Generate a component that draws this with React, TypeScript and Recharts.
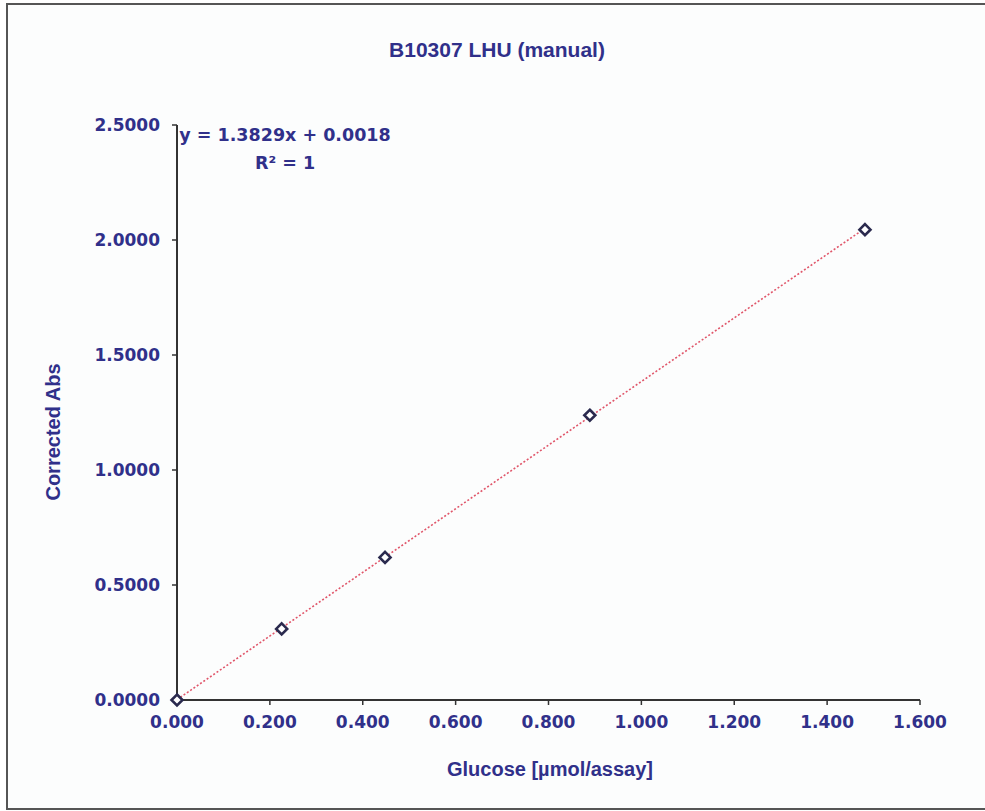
import React from "react";
import { ScatterChart, Scatter, XAxis, YAxis } from "recharts";

const glucose = [0, 0.2254, 0.448, 0.889, 1.4815];
const correctedAbs = [0, 0.309, 0.62, 1.238, 2.045];
const xTicks = [0, 0.2, 0.4, 0.6, 0.8, 1.0, 1.2, 1.4, 1.6];
const yTicks = [0, 0.5, 1.0, 1.5, 2.0, 2.5];
const slope = 1.3829;
const intercept = 0.0018;
const trendX = [0, 1.4815];

const points = glucose.map((x, i) => ({ x, y: correctedAbs[i] }));
const trend = trendX.map((x) => ({ x, y: slope * x + intercept }));

const navy = "#30308a";

const Diamond = (props: any) => {
  const { cx, cy } = props;
  if (cx == null || cy == null) return null;
  const r = 5.5;
  return (
    <path
      d={`M${cx},${cy - r} L${cx + r},${cy} L${cx},${cy + r} L${cx - r},${cy} Z`}
      fill="#ffffff"
      stroke="#2a2a4e"
      strokeWidth={2.6}
    />
  );
};

const NoShape = () => null;

const tickStyle = {
  fill: navy,
  fontSize: 17,
  fontFamily: "'DejaVu Sans', sans-serif",
  fontWeight: "bold" as const,
};

export default function App() {
  return (
    <div
      style={{
        position: "absolute",
        left: 0,
        top: 0,
        width: 985,
        height: 811,
        background: "#ffffff",
        overflow: "hidden",
      }}
    >
      <div
        style={{
          position: "absolute",
          left: 6,
          top: 3,
          width: 990,
          height: 803,
          borderTop: "2px solid #555",
          borderLeft: "2px solid #555",
          borderBottom: "2px solid #555",
          background: "#fcfdfd",
        }}
      />
      <div style={{ position: "absolute", left: 0, top: 0 }}>
        <ScatterChart
          width={985}
          height={811}
          margin={{ top: 125, right: 65, bottom: 71, left: 87 }}
        >
          <XAxis
            type="number"
            dataKey="x"
            domain={[0, 1.6]}
            ticks={xTicks}
            interval={0}
            tickFormatter={(v: number) => v.toFixed(3)}
            tick={tickStyle}
            tickSize={5}
            tickMargin={11}
            height={40}
            axisLine={{ stroke: "#333", strokeWidth: 2 }}
            tickLine={{ stroke: "#333", strokeWidth: 1.5 }}
          />
          <YAxis
            type="number"
            dataKey="y"
            domain={[0, 2.5]}
            ticks={yTicks}
            interval={0}
            tickFormatter={(v: number) => v.toFixed(4)}
            tick={tickStyle}
            tickSize={5}
            tickMargin={12}
            width={90}
            axisLine={{ stroke: "#333", strokeWidth: 2 }}
            tickLine={{ stroke: "#333", strokeWidth: 1.5 }}
          />
          <Scatter
            data={trend}
            line={{ stroke: "#e0566a", strokeWidth: 1.6, strokeDasharray: "2 2" }}
            shape={NoShape}
            isAnimationActive={false}
          />
          <Scatter
            data={points}
            shape={Diamond}
            isAnimationActive={false}
          />
        </ScatterChart>
      </div>
      <div
        style={{
          position: "absolute",
          left: 197,
          top: 39,
          width: 600,
          textAlign: "center",
          fontFamily: "'Liberation Sans', Arial, sans-serif",
          fontWeight: "bold",
          fontSize: 21,
          lineHeight: "22px",
          color: navy,
        }}
      >
        B10307 LHU (manual)
      </div>
      <div
        style={{
          position: "absolute",
          left: 135,
          top: 121,
          width: 300,
          textAlign: "center",
          fontFamily: "'DejaVu Sans', sans-serif",
          fontWeight: "bold",
          fontSize: 17.5,
          lineHeight: "28px",
          color: navy,
        }}
      >
        <div>y = 1.3829x + 0.0018</div>
        <div>R² = 1</div>
      </div>
      <div
        style={{
          position: "absolute",
          left: 53,
          top: 432,
          transform: "translate(-50%, -50%) rotate(-90deg)",
          whiteSpace: "nowrap",
          fontFamily: "'Liberation Sans', Arial, sans-serif",
          fontWeight: "bold",
          fontSize: 20,
          lineHeight: "20px",
          color: navy,
        }}
      >
        Corrected Abs
      </div>
      <div
        style={{
          position: "absolute",
          left: 550,
          top: 769,
          transform: "translate(-50%, -50%)",
          whiteSpace: "nowrap",
          fontFamily: "'Liberation Sans', Arial, sans-serif",
          fontWeight: "bold",
          fontSize: 20,
          lineHeight: "20px",
          color: navy,
        }}
      >
        Glucose [µmol/assay]
      </div>
    </div>
  );
}
